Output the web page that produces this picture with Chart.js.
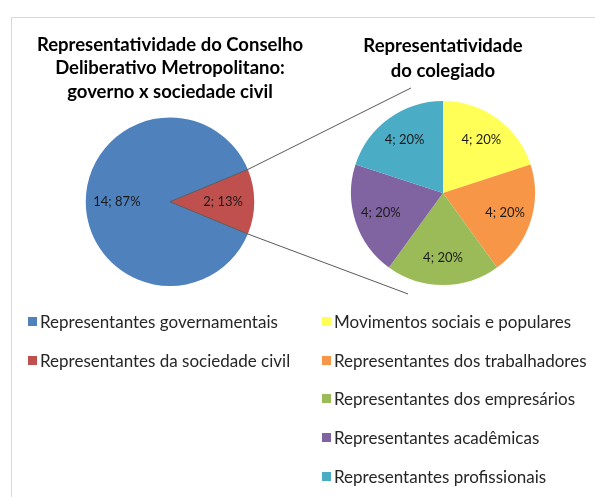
<!DOCTYPE html>
<html>
<head>
<meta charset="utf-8">
<script src="https://cdn.jsdelivr.net/npm/chart.js@4"></script>
<style>
  body { margin: 0; background: #fff; font-family: Lato, sans-serif; }
  #wrap { position: relative; width: 595px; height: 497px; overflow: hidden; }
  #frame { position: absolute; left: 11px; top: 17px; width: 700px; height: 600px; border: 1px solid #d9d9d9; }
  #wrap canvas { position: absolute; left: 0; top: 0; }
  .legend { position: absolute; margin: 0; padding: 0; list-style: none; font-size: 17px; color: #262626; }
  .legend li { height: 38.8px; display: flex; align-items: center; white-space: nowrap; }
  .legend span { display: inline-block; width: 9px; height: 9px; margin-right: 3px; }
</style>
</head>
<body>
<div id="wrap">
  <div id="frame"></div>
  <canvas id="mainChart" width="595" height="497"></canvas>
  <canvas id="subChart" width="595" height="497"></canvas>
  <ul class="legend" id="mainLegend" style="left:28px; top:302px;"></ul>
  <ul class="legend" id="subLegend" style="left:322px; top:302px;"></ul>
</div>
<script>
// left pie: governo x sociedade civil
const mainLabels = ['Representantes governamentais', 'Representantes da sociedade civil'];
const mainValues = [14, 2];
const mainPct = [87, 13];
const mainColors = ['#4f81bd', '#c0504d'];

// right pie: composition of the civil society share
const subLabels = ['Movimentos sociais e populares', 'Representantes dos trabalhadores',
  'Representantes dos empresários', 'Representantes acadêmicas', 'Representantes profissionais'];
const subValues = [4, 4, 4, 4, 4];
const subPct = [20, 20, 20, 20, 20];
const subColors = ['#ffff57', '#f79646', '#9bbb59', '#8064a2', '#4bacc6'];

const titleFont = { family: 'Lato', size: 18.5, weight: 'bold' };

// "value; pct%" text inside each slice
function sliceLabels(pcts, factor) {
  return {
    id: 'sliceLabels',
    afterDatasetsDraw(chart) {
      const ctx = chart.ctx;
      const meta = chart.getDatasetMeta(0);
      const values = chart.data.datasets[0].data;
      ctx.save();
      ctx.font = '13px Lato';
      ctx.fillStyle = '#1a1a1a';
      ctx.textAlign = 'center';
      ctx.textBaseline = 'middle';
      meta.data.forEach(function (arc, i) {
        const p = arc.getProps(['x', 'y', 'startAngle', 'endAngle', 'outerRadius'], true);
        const mid = (p.startAngle + p.endAngle) / 2;
        const r = p.outerRadius * factor;
        ctx.fillText(values[i] + '; ' + pcts[i] + '%', p.x + Math.cos(mid) * r, p.y + Math.sin(mid) * r);
      });
      ctx.restore();
    }
  };
}

const mainChart = new Chart(document.getElementById('mainChart'), {
  type: 'pie',
  data: {
    labels: mainLabels,
    datasets: [{ data: mainValues, backgroundColor: mainColors, borderWidth: 0 }]
  },
  options: {
    responsive: false,
    animation: false,
    rotation: 112.5,
    layout: { padding: { left: 30, right: 285, top: 33, bottom: 211 } },
    plugins: {
      legend: { display: false },
      tooltip: { enabled: false },
      title: {
        display: true,
        text: ['Representatividade do Conselho', 'Deliberativo Metropolitano:', 'governo x sociedade civil'],
        color: '#000',
        font: Object.assign({ lineHeight: 1.27 }, titleFont),
        padding: { top: 0, bottom: 14 }
      }
    }
  },
  plugins: [sliceLabels(mainPct, 0.63)]
});

// lines joining the civil society slice to the second pie
const connector = {
  id: 'connector',
  afterDraw(chart) {
    const src = mainChart.getDatasetMeta(0).data[1].getProps(['x', 'y', 'startAngle', 'endAngle', 'outerRadius'], true);
    const dst = chart.getDatasetMeta(0).data[0].getProps(['x', 'y', 'outerRadius'], true);
    const ctx = chart.ctx;
    const ends = [
      [src.startAngle, dst.x - 32, dst.y - dst.outerRadius - 13],
      [src.endAngle, dst.x - 35, dst.y + dst.outerRadius + 9]
    ];
    ctx.save();
    ctx.strokeStyle = '#595959';
    ctx.lineWidth = 1;
    ends.forEach(function (e) {
      ctx.beginPath();
      ctx.moveTo(src.x, src.y);
      ctx.lineTo(src.x + Math.cos(e[0]) * src.outerRadius, src.y + Math.sin(e[0]) * src.outerRadius);
      ctx.lineTo(e[1], e[2]);
      ctx.stroke();
    });
    ctx.restore();
  }
};

const subChart = new Chart(document.getElementById('subChart'), {
  type: 'pie',
  data: {
    labels: subLabels,
    datasets: [{ data: subValues, backgroundColor: subColors, borderWidth: 0 }]
  },
  options: {
    responsive: false,
    animation: false,
    layout: { padding: { left: 351, right: 60, top: 34, bottom: 212 } },
    plugins: {
      legend: { display: false },
      tooltip: { enabled: false },
      title: {
        display: true,
        text: ['Representatividade', 'do colegiado'],
        color: '#000',
        font: Object.assign({ lineHeight: 1.35 }, titleFont),
        padding: { top: 0, bottom: 17 }
      }
    }
  },
  plugins: [sliceLabels(subPct, 0.71), connector]
});

// html legends built from the chart data
function buildLegend(id, labels, colors) {
  const ul = document.getElementById(id);
  labels.forEach(function (l, i) {
    const li = document.createElement('li');
    const box = document.createElement('span');
    box.style.background = colors[i];
    li.appendChild(box);
    li.appendChild(document.createTextNode(l));
    ul.appendChild(li);
  });
}
buildLegend('mainLegend', mainLabels, mainColors);
buildLegend('subLegend', subLabels, subColors);
</script>
</body>
</html>
